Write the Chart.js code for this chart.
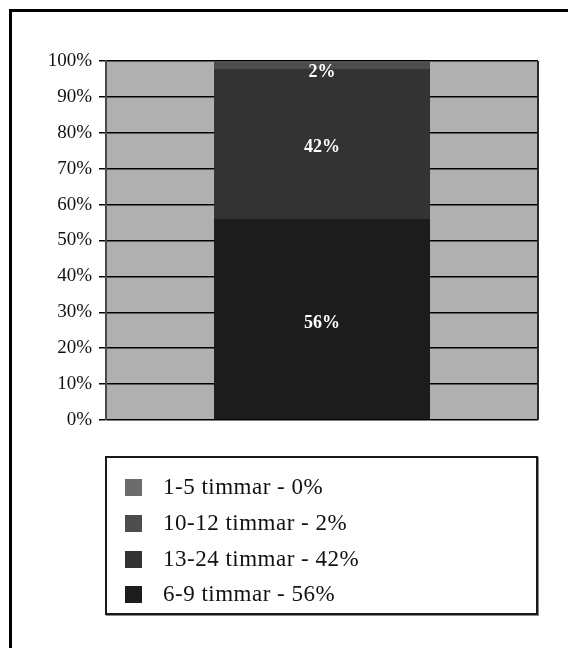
<!DOCTYPE html>
<html>
<head>
<meta charset="utf-8">
<script src="https://cdn.jsdelivr.net/npm/chart.js@4/dist/chart.umd.min.js"></script>
<style>
  html, body { margin: 0; padding: 0; background: #fff; }
  body { width: 568px; height: 648px; position: relative; overflow: hidden; }
  #frame {
    position: absolute; left: 9px; top: 9px; width: 640px; height: 720px;
    border: 3px solid #000; box-sizing: border-box;
  }
  #wrap { position: absolute; left: 0; top: 0; width: 568px; height: 648px; }
  #legend {
    position: absolute; left: 105px; top: 456px; width: 433px; height: 159px;
    box-sizing: border-box; border: 2px solid #1a1a1a; box-shadow: 1px 1px 0 #888;
    background: #fff; font-family: "Liberation Serif", "Times New Roman", serif;
    font-size: 23px; letter-spacing: 0.5px; color: #111;
  }
  .item { position: absolute; left: 18px; height: 20px; display: flex; align-items: center; }
  .sw { width: 17px; height: 17px; margin-right: 21px; }
</style>
</head>
<body>
<div id="frame"></div>
<div id="wrap"><canvas id="c" width="568" height="648"></canvas></div>
<div id="legend"></div>
<script>
// Sleep-duration groups, bottom to top of the stacked bar
const categories = ['6-9 timmar', '13-24 timmar', '10-12 timmar', '1-5 timmar'];
const shares = [56, 42, 2, 0];
const fills = ['#1c1c1c', '#333333', '#4d4d4d', '#6b6b6b'];
const yTicks = [0, 10, 20, 30, 40, 50, 60, 70, 80, 90, 100];

const serif = '"Liberation Serif", "Times New Roman", serif';

// Grey plot background and right-hand frame line
const plotFrame = {
  id: 'plotFrame',
  beforeDraw(chart) {
    const { ctx, chartArea: a } = chart;
    ctx.save();
    ctx.fillStyle = '#b0b0b0';
    ctx.fillRect(a.left, a.top, a.right - a.left, a.bottom - a.top);
    ctx.restore();
  },
  afterDatasetsDraw(chart) {
    const { ctx, chartArea: a } = chart;
    ctx.save();
    ctx.strokeStyle = '#2a2a2a';
    ctx.lineWidth = 2;
    ctx.beginPath();
    ctx.moveTo(a.right, a.top);
    ctx.lineTo(a.right, a.bottom);
    ctx.stroke();
    ctx.restore();
  }
};

// Percentage labels centred in each non-empty segment
const segmentLabels = {
  id: 'segmentLabels',
  afterDatasetsDraw(chart) {
    const { ctx, chartArea: a } = chart;
    ctx.save();
    ctx.font = 'bold 18px ' + serif;
    ctx.fillStyle = '#ffffff';
    ctx.textAlign = 'center';
    ctx.textBaseline = 'middle';
    chart.data.datasets.forEach((ds, i) => {
      const v = ds.data[0];
      if (!v) return;
      const el = chart.getDatasetMeta(i).data[0];
      let y = (el.y + el.base) / 2 + 4;
      y = Math.max(y, a.top + 11);
      ctx.fillText(v + '%', el.x, y);
    });
    ctx.restore();
  }
};

const chart = new Chart(document.getElementById('c'), {
  type: 'bar',
  data: {
    labels: [''],
    datasets: categories.map((name, i) => ({
      label: name,
      data: [shares[i]],
      backgroundColor: fills[i],
      borderWidth: 0,
      barPercentage: 1,
      categoryPercentage: 0.5
    }))
  },
  options: {
    responsive: false,
    animation: false,
    layout: { padding: { left: 0, top: 61, right: 30, bottom: 228 } },
    plugins: { legend: { display: false }, tooltip: { enabled: false } },
    scales: {
      x: { stacked: true, display: false },
      y: {
        stacked: true,
        min: 0,
        max: 100,
        afterFit(scale) { scale.width = 106; },
        afterBuildTicks(scale) { scale.ticks = yTicks.map(v => ({ value: v })); },
        border: { display: true, color: '#4a4a4a', width: 2 },
        grid: { color: '#000', lineWidth: 1.5, tickLength: 7, tickColor: '#000', tickWidth: 1.5 },
        ticks: {
          padding: 7,
          color: '#111',
          font: { family: serif, size: 19 },
          callback: v => v + '%'
        }
      }
    }
  },
  plugins: [plotFrame, segmentLabels]
});

// Legend listing groups top to bottom with their shares
const legend = document.getElementById('legend');
const order = chart.data.datasets.map((d, i) => i).reverse();
const rowCentres = [29, 65, 101, 136];
order.forEach((idx, r) => {
  const ds = chart.data.datasets[idx];
  const row = document.createElement('div');
  row.className = 'item';
  row.style.top = (rowCentres[r] - 10) + 'px';
  const sw = document.createElement('span');
  sw.className = 'sw';
  sw.style.background = ds.backgroundColor;
  const tx = document.createElement('span');
  tx.textContent = ds.label + ' - ' + ds.data[0] + '%';
  row.appendChild(sw);
  row.appendChild(tx);
  legend.appendChild(row);
});
</script>
</body>
</html>
